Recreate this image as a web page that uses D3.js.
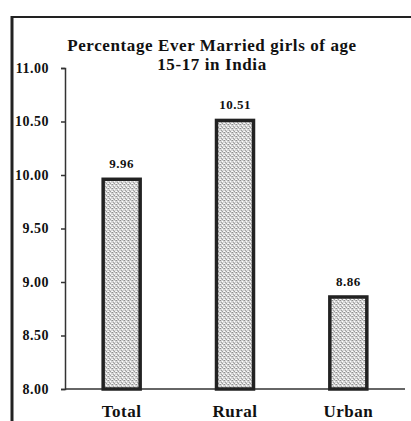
<!doctype html>
<html lang="en">
<head>
  <title>Ever married girls</title>
  <script src="https://d3js.org/d3.v7.min.js"></script>
  <style>
    body { margin: 0px; background: #fff; }
    text { font-family: "Liberation Serif", "Times New Roman", serif; font-weight: bold; fill: #111; }
  </style>
</head>
<body>
  <div id="container"></div>
  <script>
    var categories = ["Total", "Rural", "Urban"];
    var values = [9.96, 10.51, 8.86];
    var valueLabels = ["9.96", "10.51", "8.86"];
    var yTicks = [8.00, 8.50, 9.00, 9.50, 10.00, 10.50, 11.00];
    var titleLines = ["Percentage Ever Married girls of age", "15-17 in India"];

    var svg = d3.select("#container").append("svg")
        .attr("width", 411)
        .attr("height", 421);

    // stipple texture for bars
    var defs = svg.append("defs");
    var pat = defs.append("pattern")
        .attr("id", "stip")
        .attr("patternUnits", "userSpaceOnUse")
        .attr("width", 4).attr("height", 4);
    pat.append("rect").attr("width", 4).attr("height", 4).attr("fill", "#d4d4d4");
    [[0,0,"#8f8f8f"],[2,1,"#ffffff"],[1,2,"#a0a0a0"],[3,3,"#f0f0f0"],[3,0,"#b5b5b5"],[0,3,"#ffffff"],[2,3,"#9c9c9c"]]
      .forEach(function (p) {
        pat.append("rect").attr("x", p[0]).attr("y", p[1])
          .attr("width", 1).attr("height", 1).attr("fill", p[2]);
      });

    // outer frame (scan edges)
    svg.append("line").attr("x1", 11).attr("x2", 411).attr("y1", 17).attr("y2", 17)
        .attr("stroke", "#222").attr("stroke-width", 2);
    svg.append("line").attr("x1", 12).attr("x2", 12).attr("y1", 16).attr("y2", 421)
        .attr("stroke", "#222").attr("stroke-width", 3);

    var x = d3.scalePoint()
        .domain(categories)
        .range([65, 405])
        .padding(0.5);

    var y = d3.scaleLinear()
        .domain([8, 11])
        .range([389, 68]);

    var barW = 37;

    // title
    svg.append("g").selectAll("text")
        .data(titleLines)
        .enter().append("text")
          .attr("x", 212)
          .attr("y", function (d, i) { return 51 + i * 19; })
          .attr("text-anchor", "middle")
          .style("font-size", "17px")
          .style("letter-spacing", "0.6px")
          .text(function (d) { return d; });

    // y axis
    var yAxis = svg.append("g")
        .attr("transform", "translate(65,0)")
        .call(d3.axisLeft(y).tickValues(yTicks).tickSize(4).tickPadding(12)
              .tickFormat(d3.format(".2f")));
    yAxis.select(".domain").attr("stroke", "#333").attr("stroke-width", 1.5);
    yAxis.selectAll(".tick line").attr("stroke", "#333").attr("stroke-width", 1.5);
    yAxis.selectAll(".tick text")
        .style("font-size", "14px")
        .style("font-family", "'Liberation Serif', serif")
        .style("font-weight", "bold")
        .style("letter-spacing", "0.5px")
        .attr("fill", "#111");

    // x axis line
    svg.append("line")
        .attr("x1", 65).attr("x2", 405)
        .attr("y1", y(8)).attr("y2", y(8))
        .attr("stroke", "#333").attr("stroke-width", 1.5);

    // bars
    svg.append("g").selectAll("rect")
        .data(values)
        .enter().append("rect")
          .attr("x", function (d, i) { return x(categories[i]) - barW / 2; })
          .attr("y", function (d) { return y(d); })
          .attr("width", barW)
          .attr("height", function (d) { return y(8) - y(d); })
          .attr("fill", "url(#stip)")
          .attr("stroke", "#222")
          .attr("stroke-width", 3.5);

    // value labels
    svg.append("g").selectAll("text")
        .data(values)
        .enter().append("text")
          .attr("x", function (d, i) { return x(categories[i]); })
          .attr("y", function (d) { return y(d) - 11; })
          .attr("text-anchor", "middle")
          .style("font-size", "13px")
          .style("letter-spacing", "0.5px")
          .text(function (d, i) { return valueLabels[i]; });

    // category labels
    svg.append("g").selectAll("text")
        .data(categories)
        .enter().append("text")
          .attr("x", function (d) { return x(d); })
          .attr("y", 417)
          .attr("text-anchor", "middle")
          .style("font-size", "17px")
          .style("letter-spacing", "0.5px")
          .text(function (d) { return d; });
  </script>
</body>
</html>
